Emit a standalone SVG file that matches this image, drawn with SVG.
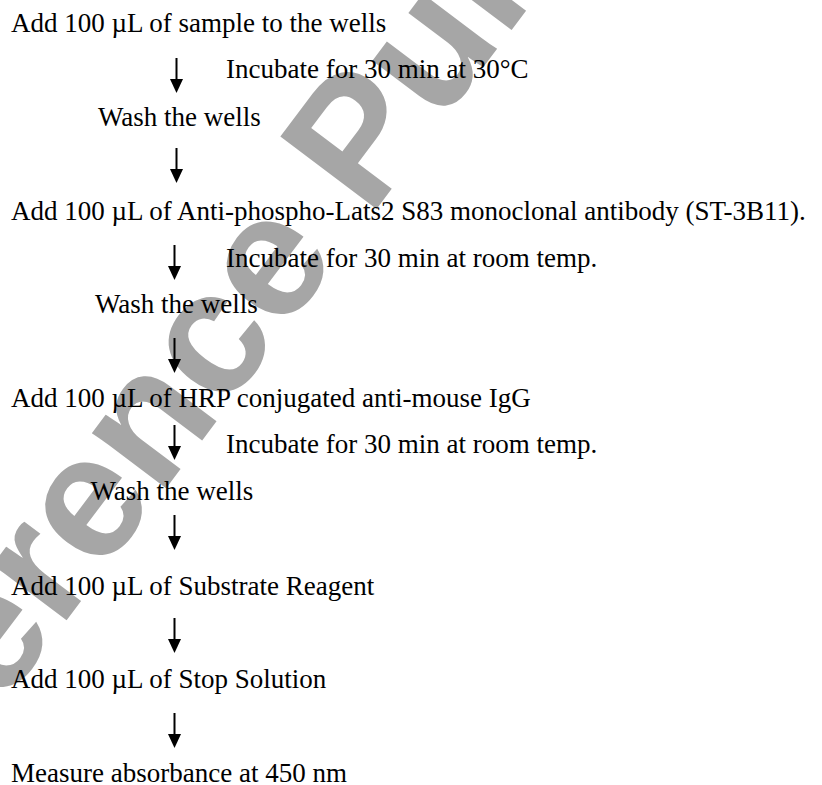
<svg xmlns="http://www.w3.org/2000/svg" width="822" height="785" viewBox="0 0 822 785">
<style>
.t{font-family:"Liberation Serif","Times New Roman",serif;font-size:27px;fill:#000}
.wm{font-family:"Liberation Sans",Arial,sans-serif;font-weight:bold;font-size:175px;fill:#a6a6a6}
.sh{stroke:#000;stroke-width:2;fill:none}
.hd{fill:#000}
</style>
<defs>
<g id="arr"><line class="sh" x1="0" y1="0" x2="0" y2="22"/><polygon class="hd" points="-6.5,21 6.5,21 0,35"/></g>
</defs>
<rect width="822" height="785" fill="#fff"/>
<g id="watermark">
<text class="wm" x="-169" y="933" transform="rotate(-53 -169 933)">Reference Purpose Only</text>
</g>
<g id="connectors">
<use href="#arr" x="176.5" y="58"/>
<use href="#arr" x="176.5" y="148"/>
<use href="#arr" x="174.5" y="245"/>
<use href="#arr" x="174.5" y="338"/>
<use href="#arr" x="174.5" y="425"/>
<use href="#arr" x="174.5" y="515"/>
<use href="#arr" x="174.5" y="618"/>
<use href="#arr" x="174.5" y="713"/>
</g>
<g id="n1"><text class="t" x="11" y="32">Add 100 µL of sample to the wells</text></g>
<g id="n1a"><text class="t" x="226" y="78">Incubate for 30 min at 30°C</text></g>
<g id="n2"><text class="t" x="98" y="126">Wash the wells</text></g>
<g id="n3"><text class="t" x="11" y="220">Add 100 µL of Anti-phospho-Lats2 S83 monoclonal antibody (ST-3B11).</text></g>
<g id="n3a"><text class="t" x="226" y="267">Incubate for 30 min at room temp.</text></g>
<g id="n4"><text class="t" x="95" y="313">Wash the wells</text></g>
<g id="n5"><text class="t" x="11" y="407">Add 100 µL of HRP conjugated anti-mouse IgG</text></g>
<g id="n5a"><text class="t" x="226" y="453">Incubate for 30 min at room temp.</text></g>
<g id="n6"><text class="t" x="90.5" y="500">Wash the wells</text></g>
<g id="n7"><text class="t" x="11" y="595">Add 100 µL of Substrate Reagent</text></g>
<g id="n8"><text class="t" x="11" y="688">Add 100 µL of Stop Solution</text></g>
<g id="n9"><text class="t" x="11" y="782">Measure absorbance at 450 nm</text></g>
</svg>
